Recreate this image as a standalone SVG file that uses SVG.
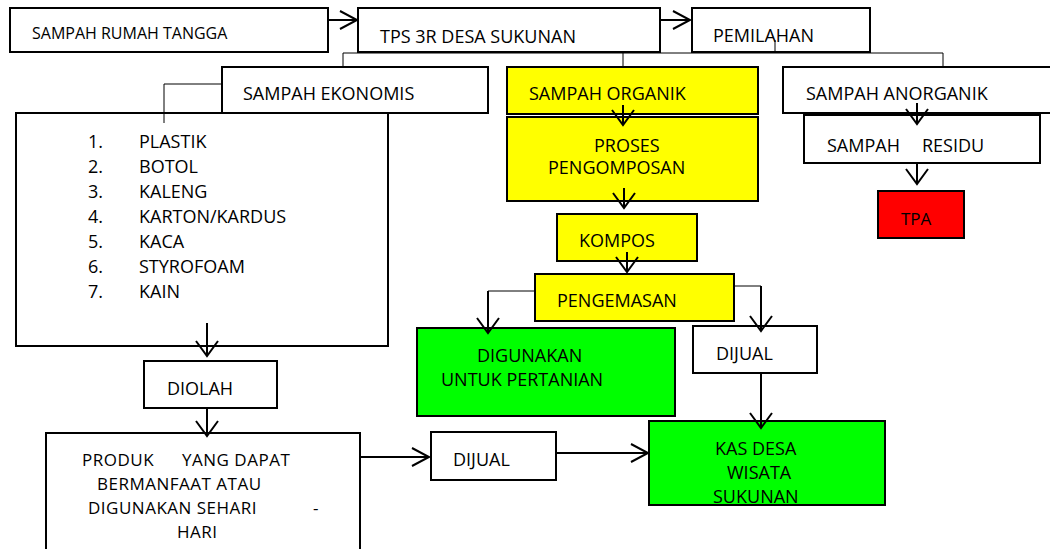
<svg xmlns="http://www.w3.org/2000/svg" width="1050" height="549" viewBox="0 0 1050 549">
<style>
.b{fill:#fff;stroke:#000;stroke-width:2}
.y{fill:#ffff00;stroke:#000;stroke-width:2}
.g{fill:#00ff00;stroke:#000;stroke-width:2}
.r{fill:#ff0000;stroke:#000;stroke-width:2}
text{font-family:"Open Sans","Liberation Sans",sans-serif;font-size:18px;fill:#000}
.s{font-size:16px}
.p{font-size:17px;letter-spacing:0.5px}
.t{fill:none;stroke:#000;stroke-width:1}
.a{fill:none;stroke:#000;stroke-width:2}
.av{marker-end:url(#mv)}
.ah{marker-end:url(#mh)}
</style>
<defs>
<marker id="mv" markerUnits="userSpaceOnUse" orient="auto" markerWidth="30" markerHeight="30" viewBox="-20 -15 30 30" refX="0" refY="0" overflow="visible">
<path d="M-15,-11 L0,0 L-15,11" fill="none" stroke="#000" stroke-width="2"/>
</marker>
<marker id="mh" markerUnits="userSpaceOnUse" orient="auto" markerWidth="30" markerHeight="30" viewBox="-20 -15 30 30" refX="0" refY="0" overflow="visible">
<path d="M-17,-9 L0,0 L-17,9" fill="none" stroke="#000" stroke-width="2"/>
</marker>
</defs>
<g id="n-rumah"><rect class="b" x="10" y="8" width="318" height="44"/><text class="s" x="32" y="39">SAMPAH RUMAH TANGGA</text></g>
<g id="n-tps"><rect class="b" x="358" y="8" width="302" height="44"/><text x="380" y="43">TPS 3R DESA SUKUNAN</text></g>
<g id="n-pemilahan"><rect class="b" x="692" y="8" width="178" height="44"/><text x="713" y="42">PEMILAHAN</text></g>
<g id="n-ekonomis"><rect class="b" x="222" y="67" width="266" height="46"/><text x="243" y="100">SAMPAH EKONOMIS</text></g>
<g id="n-organik"><rect class="y" x="507" y="67" width="251" height="47"/><text x="529" y="100">SAMPAH ORGANIK</text></g>
<g id="n-proses"><rect class="y" x="507" y="117" width="251" height="84"/><text x="594" y="152">PROSES</text><text x="548" y="174">PENGOMPOSAN</text></g>
<g id="n-anorganik"><rect class="b" x="783" y="67" width="270" height="46"/><text x="806" y="100">SAMPAH ANORGANIK</text></g>
<g id="n-residu"><rect class="b" x="804" y="115" width="236" height="48"/><text y="152"><tspan x="827">SAMPAH</tspan><tspan x="922">RESIDU</tspan></text></g>
<g id="n-tpa"><rect class="r" x="878" y="191" width="86" height="47"/><text x="901" y="225" style="font-size:17px">TPA</text></g>
<g id="n-list"><rect class="b" x="16" y="113" width="372" height="233"/>
<text x="88" y="148">1.</text><text x="139" y="148">PLASTIK</text>
<text x="88" y="173">2.</text><text x="139" y="173">BOTOL</text>
<text x="88" y="198">3.</text><text x="139" y="198">KALENG</text>
<text x="88" y="223">4.</text><text x="139" y="223">KARTON/KARDUS</text>
<text x="88" y="248">5.</text><text x="139" y="248">KACA</text>
<text x="88" y="273">6.</text><text x="139" y="273">STYROFOAM</text>
<text x="88" y="298">7.</text><text x="139" y="298">KAIN</text>
</g>
<g id="n-kompos"><rect class="y" x="557" y="214" width="140" height="47"/><text x="579" y="247">KOMPOS</text></g>
<g id="n-pengemasan"><rect class="y" x="535" y="274" width="199" height="47"/><text x="557" y="307">PENGEMASAN</text></g>
<g id="n-digunakan"><rect class="g" x="417" y="328" width="258" height="88"/><text x="477" y="362">DIGUNAKAN</text><text x="441" y="386">UNTUK PERTANIAN</text></g>
<g id="n-dijual1"><rect class="b" x="693" y="326" width="124" height="47"/><text x="716" y="360">DIJUAL</text></g>
<g id="n-kas"><rect class="g" x="649" y="421" width="236" height="84"/><text x="715" y="455">KAS DESA</text><text x="727" y="479">WISATA</text><text x="713" y="503">SUKUNAN</text></g>
<g id="n-dijual2"><rect class="b" x="431" y="432" width="125" height="48"/><text x="453" y="466">DIJUAL</text></g>
<g id="n-diolah"><rect class="b" x="144" y="361" width="133" height="47"/><text x="167" y="395">DIOLAH</text></g>
<g id="n-produk"><rect class="b" x="46" y="433" width="314" height="130"/>
<text class="p" y="466"><tspan x="82">PRODUK</tspan><tspan x="182">YANG DAPAT</tspan></text>
<text class="p" x="97" y="490">BERMANFAAT ATAU</text>
<text class="p" y="514"><tspan x="88">DIGUNAKAN SEHARI</tspan><tspan x="313">-</tspan></text>
<text class="p" x="177" y="538">HARI</text>
</g>
<g id="connectors">
<line class="a ah" x1="328" y1="20" x2="357" y2="20"/>
<line class="a ah" x1="660" y1="20" x2="690" y2="20"/>
<polyline class="t" points="343,67 343,53 943,53 943,67"/>
<line class="t" x1="623" y1="53" x2="623" y2="67"/>
<line class="t" x1="775" y1="40" x2="775" y2="53"/>
<polyline class="t" points="222,84 164,84 164,123"/>
<line class="a av" x1="623" y1="105" x2="623" y2="125"/>
<line class="a av" x1="624" y1="188" x2="624" y2="208"/>
<line class="a av" x1="627" y1="252" x2="627" y2="272"/>
<line class="t" x1="535" y1="291" x2="488" y2="291"/>
<line class="a av" x1="488" y1="291" x2="488" y2="333"/>
<line class="t" x1="734" y1="286" x2="761" y2="286"/>
<line class="a av" x1="761" y1="286" x2="761" y2="331"/>
<line class="a av" x1="761" y1="373" x2="761" y2="428"/>
<line class="a av" x1="917" y1="103" x2="917" y2="124"/>
<line class="a av" x1="917" y1="163" x2="917" y2="184"/>
<line class="a av" x1="207" y1="323" x2="207" y2="356"/>
<line class="a av" x1="207" y1="408" x2="207" y2="436"/>
<line class="a ah" x1="361" y1="457" x2="429" y2="457"/>
<line class="a ah" x1="556" y1="453" x2="648" y2="453"/>
</g>
</svg>
